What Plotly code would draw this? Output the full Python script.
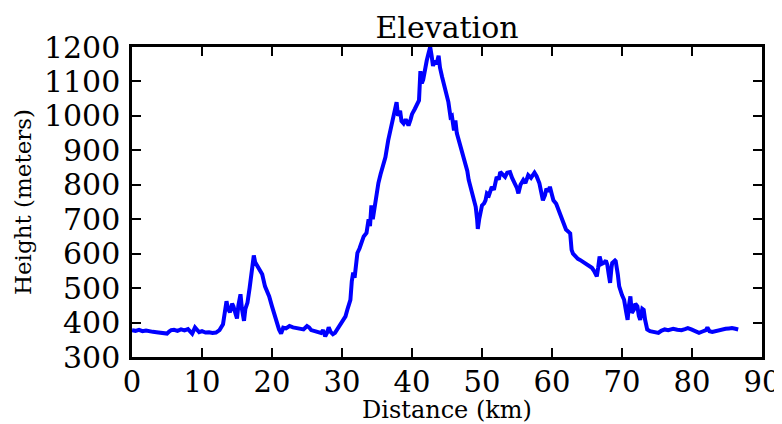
import plotly.graph_objects as go

distance_km = [
    0.0, 0.5, 1.0, 1.5, 2.0, 2.5, 3.0, 3.5, 4.0, 4.5, 5.0, 5.3, 5.6, 6.0, 6.5, 7.0, 7.5, 8.0, 8.3, 8.6,
    9.0, 9.3, 9.6, 10.0, 10.5, 11.0, 11.5, 12.0, 12.5, 13.0, 13.3, 13.5, 13.7, 14.0, 14.3, 14.5, 14.8, 15.0, 15.2, 15.5,
    15.7, 16.0, 16.2, 16.5, 16.8, 17.0, 17.2, 17.4, 17.6, 17.8, 18.0, 18.3, 18.6, 19.0, 19.3, 19.6, 20.0, 20.3, 20.6, 21.0,
    21.3, 21.6, 22.0, 22.5, 23.0, 23.5, 24.0, 24.5, 25.0, 25.3, 25.6, 26.0, 26.5, 27.0, 27.3, 27.6, 27.9, 28.1, 28.4, 28.7,
    29.0, 29.4, 29.8, 30.2, 30.5, 30.8, 31.2, 31.4, 31.6, 31.8, 32.0, 32.2, 32.5, 32.8, 33.1, 33.5, 33.8, 34.0, 34.2, 34.4,
    34.7, 35.0, 35.2, 35.5, 35.9, 36.2, 36.6, 36.9, 37.3, 37.6, 37.8, 38.0, 38.3, 38.5, 38.8, 39.1, 39.5, 39.8, 40.0, 40.4,
    40.8, 41.0, 41.2, 41.4, 41.6, 41.9, 42.1, 42.4, 42.6, 42.8, 43.0, 43.2, 43.5, 43.8, 44.0, 44.3, 44.6, 45.0, 45.2, 45.5,
    45.7, 46.0, 46.2, 46.4, 46.7, 47.0, 47.2, 47.4, 47.6, 47.9, 48.1, 48.4, 48.6, 48.9, 49.1, 49.3, 49.4, 49.6, 49.8, 50.0,
    50.3, 50.5, 50.7, 51.0, 51.4, 51.7, 52.1, 52.4, 52.6, 53.0, 53.3, 53.6, 54.0, 54.3, 54.7, 55.0, 55.2, 55.5, 55.9, 56.2,
    56.6, 57.0, 57.5, 57.8, 58.2, 58.5, 58.7, 59.0, 59.2, 59.5, 59.7, 60.0, 60.2, 60.6, 60.9, 61.3, 61.6, 62.0, 62.6, 62.8,
    63.0, 63.3, 63.7, 64.0, 64.5, 65.0, 65.4, 65.7, 66.0, 66.4, 66.6, 66.8, 67.1, 67.4, 67.7, 67.9, 68.1, 68.3, 68.5, 68.6,
    69.0, 69.1, 69.4, 69.6, 70.0, 70.3, 70.6, 70.8, 71.0, 71.2, 71.4, 71.7, 71.9, 72.2, 72.4, 72.6, 72.9, 73.1, 73.3, 73.6,
    74.0, 74.5, 75.2, 75.6, 76.1, 76.6, 77.3, 77.9, 78.5, 79.0, 79.4, 79.9, 80.3, 80.7, 81.0, 81.5, 82.0, 82.2, 82.5, 82.9,
    83.4, 83.8, 84.3, 84.8, 85.3, 85.7, 86.2, 86.6,
]

height_m = [
    378, 376, 379, 375, 377, 374, 373, 372, 370, 369, 368, 374, 378, 379, 376, 380, 377, 381, 372, 368,
    386, 378, 372, 375, 371, 372, 370, 371, 378, 395, 430, 462, 440, 430, 455, 447, 425, 412, 450, 482,
    440, 405, 440, 458, 500, 530, 565, 595, 575, 568, 562, 555, 540, 505, 490, 476, 447, 425, 405, 380,
    368, 385, 383, 390, 386, 384, 382, 380, 390, 386, 378, 376, 372, 370, 378, 360, 372, 386, 372, 366,
    370, 382, 392, 405, 418, 440, 466, 520, 545, 530, 585, 602, 615, 630, 650, 660, 700, 680, 740, 700,
    746, 790, 805, 830, 862, 880, 929, 960, 997, 1030, 1040, 1000, 1015, 985, 978, 990, 972, 990, 1005, 1020,
    1040, 1045, 1130, 1095, 1105, 1150, 1160, 1185, 1200, 1175, 1145, 1160, 1150, 1175, 1140, 1113, 1085, 1055, 1040, 997,
    1000, 958, 987, 950, 929, 900, 891, 875, 862, 840, 814, 790, 765, 750, 736, 700, 672, 700, 727, 740,
    746, 755, 775, 770, 794, 785, 823, 815, 837, 830, 823, 835, 837, 820, 804, 790, 775, 800, 814, 805,
    828, 820, 835, 825, 804, 780, 755, 770, 789, 780, 794, 770, 755, 745, 727, 710, 688, 670, 659, 611,
    600, 592, 585, 582, 575, 568, 562, 559, 550, 534, 560, 592, 570, 573, 580, 568, 540, 515, 560, 573,
    580, 578, 540, 505, 480, 466, 430, 408, 450, 476, 428, 437, 455, 447, 420, 408, 440, 437, 408, 380,
    375, 372, 370, 376, 380, 378, 382, 379, 378, 381, 384, 380, 376, 372, 370, 374, 378, 386, 375, 373,
    376, 378, 380, 382, 383, 384, 382, 380,
]

x_ticks = [0, 10, 20, 30, 40, 50, 60, 70, 80, 90]
y_ticks = [300, 400, 500, 600, 700, 800, 900, 1000, 1100, 1200]

FONT = "DejaVu Serif"

fig = go.Figure()
fig.add_trace(go.Scatter(
    x=distance_km, y=height_m, mode="lines",
    line=dict(color="#0000ff", width=4),
    showlegend=False,
))

axis_common = dict(
    showline=True, linecolor="black", linewidth=2.5, mirror="ticks",
    ticks="inside", ticklen=9, tickwidth=1.5, tickcolor="black",
    showgrid=False, zeroline=False, automargin=False,
)

# page body has an 8px default margin, so the figure is drawn 8px in from the top-left
fig.update_layout(
    width=774, height=416,
    margin=dict(l=123.5, r=20, t=38.5, b=66.5, autoexpand=False),
    paper_bgcolor="white", plot_bgcolor="white",
    title=dict(text="Elevation", font=dict(family=FONT, size=30, color="black"),
               x=0.5, xref="paper", xanchor="center",
               y=1, yref="paper", yanchor="bottom", pad=dict(b=9), automargin=False),
    xaxis=dict(range=[0, 90], tickvals=x_ticks, ticklabelstandoff=-3,
               tickfont=dict(family=FONT, size=29, color="black"),
               title=dict(text="Distance (km)", font=dict(family=FONT, size=24, color="black"), standoff=2),
               **axis_common),
    yaxis=dict(range=[300, 1200], tickvals=y_ticks, ticklabelstandoff=3,
               tickfont=dict(family=FONT, size=30, color="black"),
               title=dict(text="Height (meters)", font=dict(family=FONT, size=23, color="black"), standoff=6),
               **axis_common),
)

fig.write_html("out.html")
